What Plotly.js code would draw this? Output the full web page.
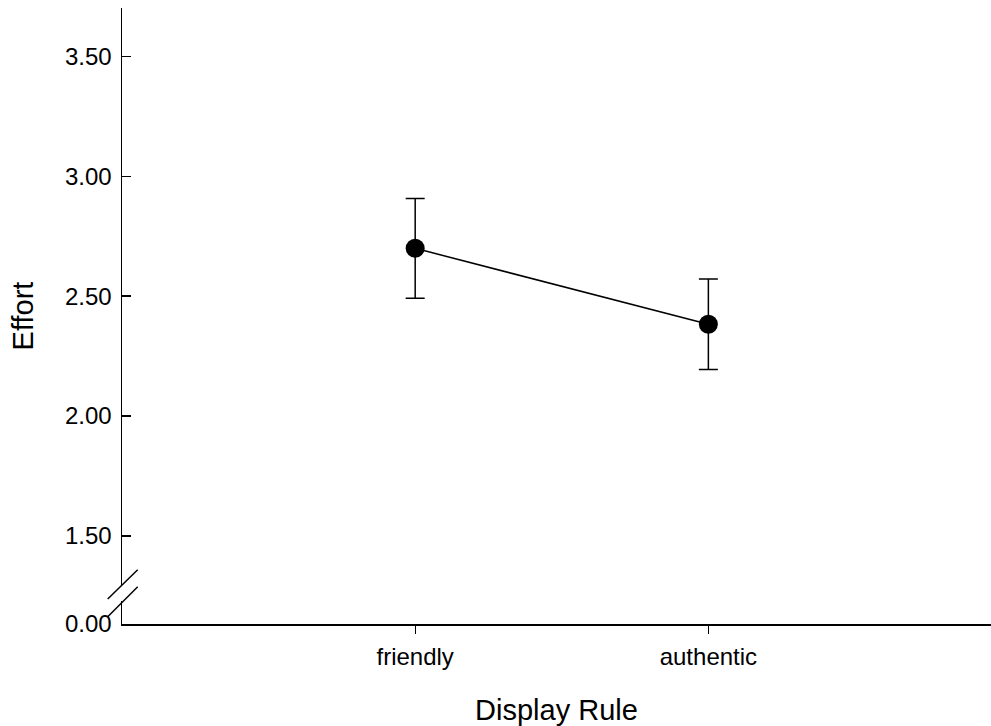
<!DOCTYPE html>
<html>
<head>
<meta charset="utf-8">
<script src="https://cdn.plot.ly/plotly-3.0.1.min.js"></script>
<style>html,body{margin:0;padding:0;background:#fff;}#chart{width:991px;height:726px;}</style>
</head>
<body>
<div id="chart"></div>
<script>
const categories = ['friendly', 'authentic'];
const effortMeans = [2.70, 2.383];
const effortErrors = [0.208, 0.189];
const yTickValues = [1.132, 1.5, 2.0, 2.5, 3.0, 3.5];
const yTickLabels = ['0.00', '1.50', '2.00', '2.50', '3.00', '3.50'];

const W = 991, H = 726;
const L = 122, R = 0, T = 8, B = 102;
const pw = W - L - R, ph = H - T - B;
const px = v => (v - L) / pw;
const py = v => (H - B - v) / ph;

const trace = {
  x: categories,
  y: effortMeans,
  type: 'scatter',
  mode: 'lines+markers',
  line: {color: '#000', width: 1.5},
  marker: {color: '#000', size: 19, symbol: 'circle'},
  error_y: {type: 'data', array: effortErrors, visible: true, color: '#000', thickness: 1.5, width: 9.5},
  cliponaxis: false,
  hoverinfo: 'skip'
};

const font = 'Liberation Sans, Arial, sans-serif';

const layout = {
  width: W, height: H,
  margin: {l: L, r: R, t: T, b: B},
  paper_bgcolor: '#fff', plot_bgcolor: '#fff',
  showlegend: false,
  font: {family: font, color: '#000'},
  xaxis: {
    type: 'category',
    range: [-1, 1.964],
    showgrid: false, zeroline: false,
    showline: true, linecolor: '#000', linewidth: 1.5,
    ticks: 'outside', ticklen: 8, tickwidth: 1, tickcolor: '#000',
    ticklabelstandoff: 3,
    tickfont: {family: font, size: 24, color: '#000'},
    title: {text: 'Display Rule', font: {family: font, size: 29, color: '#000'}, standoff: 31}
  },
  yaxis: {
    range: [1.132, 3.703],
    tickvals: yTickValues,
    ticktext: yTickLabels,
    showgrid: false, zeroline: false,
    showline: true, linecolor: '#000', linewidth: 1.5,
    ticks: 'inside', ticklen: 9, tickwidth: 1.5, tickcolor: '#000',
    ticklabelstandoff: 4,
    tickfont: {family: font, size: 24, color: '#000'},
    title: {text: 'Effort', font: {family: font, size: 29, color: '#000'}, standoff: 23}
  },
  shapes: [
    {type: 'line', xref: 'paper', yref: 'paper', x0: px(122), x1: px(122), y0: py(601), y1: py(586), line: {color: '#fff', width: 4}, layer: 'above'},
    {type: 'line', xref: 'paper', yref: 'paper', x0: px(107.7), y0: py(599), x1: px(137.7), y1: py(569.7), line: {color: '#000', width: 1.5}, layer: 'above'},
    {type: 'line', xref: 'paper', yref: 'paper', x0: px(107.7), y0: py(616.7), x1: px(137.7), y1: py(586.7), line: {color: '#000', width: 1.5}, layer: 'above'}
  ]
};

Plotly.newPlot('chart', [trace], layout, {displayModeBar: false, staticPlot: true});
</script>
</body>
</html>
